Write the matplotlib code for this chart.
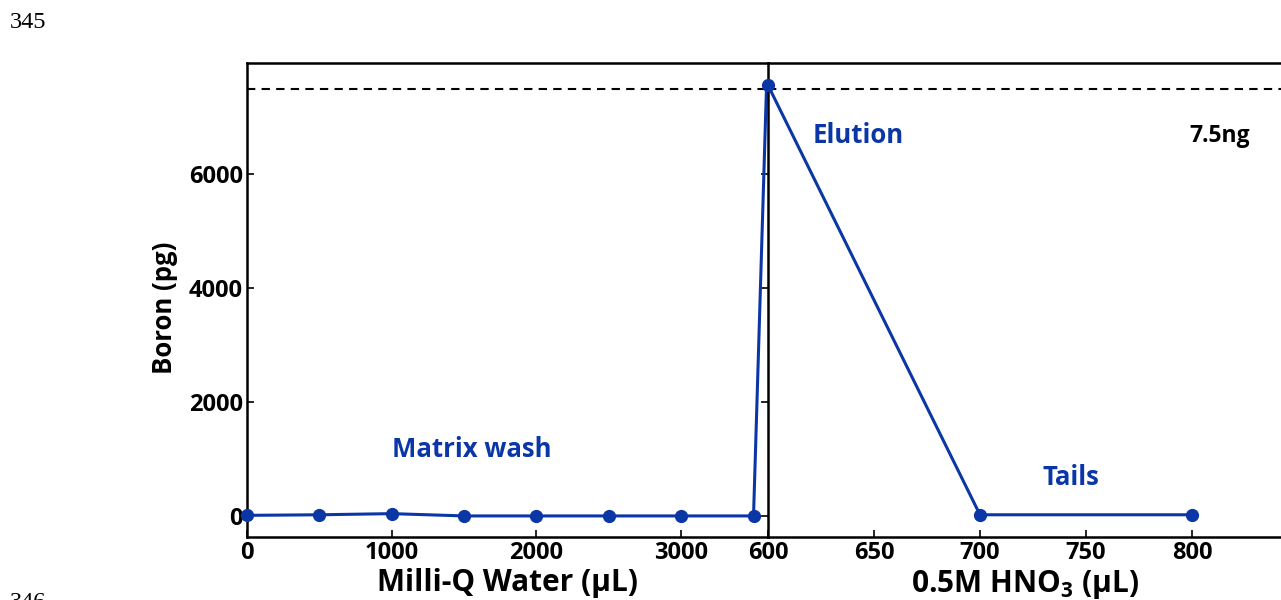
import matplotlib
matplotlib.use("Agg")
import matplotlib.pyplot as plt

# Milli-Q water wash (µL) vs boron (pg)
wash_ul = [0, 500, 1000, 1500, 2000, 2500, 3000, 3500]
wash_pg = [10, 20, 40, 0, 0, 0, 0, 0]

# 0.5M HNO3 elution (µL) vs boron (pg)
acid_ul = [600, 700, 800]
acid_pg = [7560, 20, 20]

total_pg = 7500
blue = '#0A36A6'

plt.rcParams['font.family'] = ['Open Sans', 'DejaVu Sans']
plt.rcParams['font.weight'] = 'bold'
plt.rcParams['mathtext.fontset'] = 'custom'
plt.rcParams['mathtext.rm'] = 'Open Sans'

fig = plt.figure(figsize=(12.81, 6.0), dpi=100)
ax1 = fig.add_axes([247/1281, 1 - 537/600, (768-247)/1281, 474/600])
ax2 = fig.add_axes([768/1281, 1 - 537/600, (1281-768)/1281, 474/600], sharey=ax1)

# left panel, the last segment climbs to the elution peak at the panel edge
ax1.plot(wash_ul + [3590], wash_pg + [acid_pg[0]], color=blue, lw=2.2, clip_on=False)
ax1.plot(wash_ul, wash_pg, 'o', color=blue, ms=8.5, clip_on=False, zorder=3)
ax1.axhline(total_pg, color='black', ls='--', lw=1.5, dashes=(4, 3))
ax1.set_xlim(0, 3600)
ax1.set_ylim(-370, 7950)
ax1.set_xticks([0, 1000, 2000, 3000])
ax1.set_yticks([0, 2000, 4000, 6000])
ax1.tick_params(direction='in', labelsize=17, length=5, right=True, width=1.2, pad=3)
ax1.set_xlabel('Milli-Q Water (µL)', fontsize=21.5, fontweight='bold', labelpad=2)
ax1.set_ylabel('Boron (pg)', fontsize=18.5, fontweight='bold')
ax1.yaxis.set_label_coords(-0.133, 0.483)
ax1.spines['right'].set_visible(False)
for s in ['left', 'top', 'bottom']:
    ax1.spines[s].set_linewidth(1.8)
ax1.text(1552, 1158, 'Matrix wash', color=blue, fontsize=18.5, fontweight='bold',
         ha='center', va='center')

ax2.plot(acid_ul, acid_pg, '-o', color=blue, lw=2.2, ms=8.5, clip_on=False, zorder=3)
ax2.axhline(total_pg, color='black', ls='--', lw=1.5, dashes=(4, 3))
ax2.set_xlim(600, 842)
ax2.set_xticks([600, 650, 700, 750, 800])
ax2.tick_params(axis='x', direction='in', labelsize=17, length=5, width=1.2, pad=3)
ax2.tick_params(axis='y', length=0, labelleft=False)
ax2.set_xlabel('0.5M HNO$_3$ (µL)', fontsize=21.5, fontweight='bold', labelpad=2)
ax2.spines['right'].set_visible(False)
for s in ['left', 'top', 'bottom']:
    ax2.spines[s].set_linewidth(1.8)
ax2.text(642.5, 6684, 'Elution', color=blue, fontsize=18.5, fontweight='bold',
         ha='center', va='center')
ax2.text(743, 667, 'Tails', color=blue, fontsize=18.5, fontweight='bold',
         ha='center', va='center')
ax2.text(813, 6667, '7.5ng', color='black', fontsize=16.5, fontweight='bold',
         ha='center', va='center')

# manuscript line numbers
fig.text(10/1281, 1 - 23/600, '345', family='Liberation Serif', fontsize=17.5,
         fontweight='normal', va='center')
fig.text(10/1281, 1 - 602/600, '346', family='Liberation Serif', fontsize=17.5,
         fontweight='normal', va='center')

fig.savefig('out.png', dpi=100)
